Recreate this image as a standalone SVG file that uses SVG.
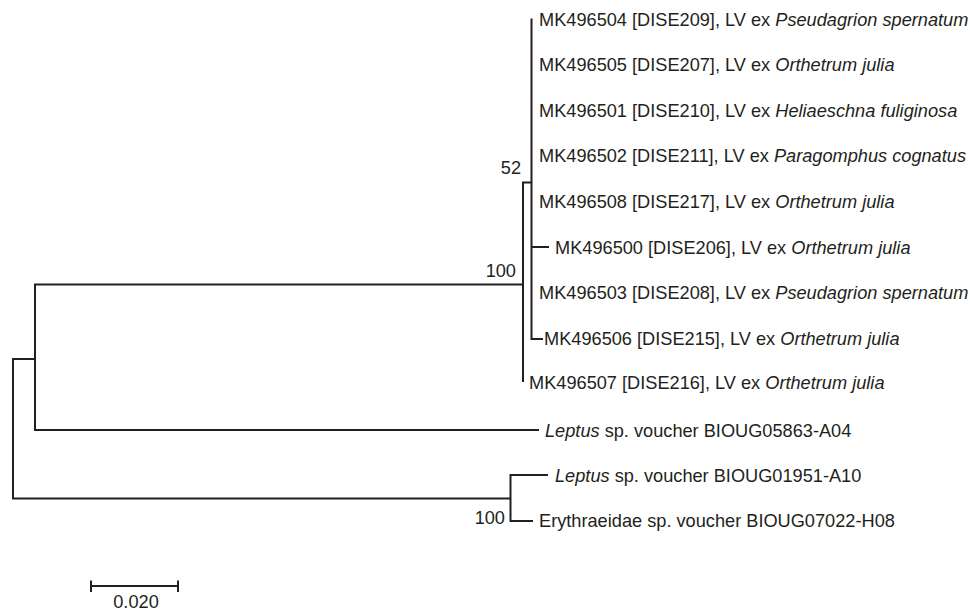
<svg xmlns="http://www.w3.org/2000/svg" width="970" height="612" viewBox="0 0 970 612">
<style>
text{font-family:"Liberation Sans",Arial,sans-serif;font-size:18.2px;fill:#231f20}
.i{font-style:italic}
.br{fill:none;stroke:#231f20;stroke-width:2;stroke-linejoin:miter;stroke-linecap:butt}
.bs{text-anchor:end}
</style>
<rect width="970" height="612" fill="#fff"/>
<g id="connectors">
<path class="br" d="M35,359 H13 V498.5 H510.5"/>
<path class="br" d="M523,284.5 H35 V430 H539"/>
<path class="br" d="M548,475 H510.5 V521 H533"/>
<path class="br" d="M531.5,182.5 H523 V382"/>
<path class="br" d="M531.5,18.5 V339 H543"/>
<path class="br" d="M531.5,247 H549"/>
</g>
<g id="bootstrap">
<text class="bs" x="521" y="173.5">52</text>
<text class="bs" x="516" y="277">100</text>
<text class="bs" x="505" y="523.5">100</text>
</g>
<g id="leaf-MK496504"><text x="539" y="26">MK496504 [DISE209], LV ex <tspan class="i">Pseudagrion spernatum</tspan></text></g>
<g id="leaf-MK496505"><text x="539" y="71">MK496505 [DISE207], LV ex <tspan class="i">Orthetrum julia</tspan></text></g>
<g id="leaf-MK496501"><text x="539" y="116.5">MK496501 [DISE210], LV ex <tspan class="i">Heliaeschna fuliginosa</tspan></text></g>
<g id="leaf-MK496502"><text x="539" y="162">MK496502 [DISE211], LV ex <tspan class="i">Paragomphus cognatus</tspan></text></g>
<g id="leaf-MK496508"><text x="539" y="207.5">MK496508 [DISE217], LV ex <tspan class="i">Orthetrum julia</tspan></text></g>
<g id="leaf-MK496500"><text x="555" y="254">MK496500 [DISE206], LV ex <tspan class="i">Orthetrum julia</tspan></text></g>
<g id="leaf-MK496503"><text x="539" y="299">MK496503 [DISE208], LV ex <tspan class="i">Pseudagrion spernatum</tspan></text></g>
<g id="leaf-MK496506"><text x="544" y="345">MK496506 [DISE215], LV ex <tspan class="i">Orthetrum julia</tspan></text></g>
<g id="leaf-MK496507"><text x="529" y="389">MK496507 [DISE216], LV ex <tspan class="i">Orthetrum julia</tspan></text></g>
<g id="leaf-BIOUG05863"><text x="545" y="436.5"><tspan class="i">Leptus</tspan> sp. voucher BIOUG05863-A04</text></g>
<g id="leaf-BIOUG01951"><text x="555" y="481.5"><tspan class="i">Leptus</tspan> sp. voucher BIOUG01951-A10</text></g>
<g id="leaf-BIOUG07022"><text x="539" y="526.5">Erythraeidae sp. voucher BIOUG07022-H08</text></g>
<g id="scale-bar">
<path class="br" d="M90,586 H179 M91,580.5 V592 M178,580.5 V592"/>
<text x="136" y="608" text-anchor="middle">0.020</text>
</g>
</svg>
